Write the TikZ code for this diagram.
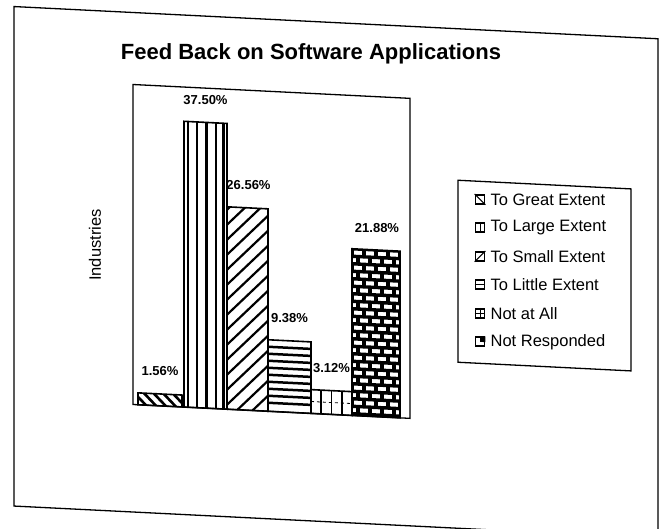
\documentclass[tikz,border=0pt]{standalone}
\usepackage{fontspec}
\setmainfont{Liberation Sans}
\usetikzlibrary{positioning}
\tikzset{
x=1pt, y=-1pt, % one unit is one pixel of the scan, y runs downwards
frame/.style={draw, line width=1.3pt}, % outer frame, plot area and legend box
bar/.style={draw, line width=1.6pt}, % outline of every bar
hatch/.style={line width=2.6pt}, % the thick lines that fill the bars
pct/.style={font=\bfseries\fontsize{13}{15}\selectfont, anchor=base, inner sep=0pt},
key/.style={draw, line width=1.8pt, minimum size=9pt, inner sep=0pt}, % small legend squares
keytext/.style={font=\fontsize{16.5}{18}\selectfont, inner sep=0pt, anchor=west},
}

\begin{document}
\begin{tikzpicture}
\useasboundingbox (0,0) rectangle (667,528);

\begin{scope}[yshift=16.65pt, yslant=-0.05] % the scan is skewed a little

\draw[frame] (14,22.5) rectangle (658,522);
\node[font=\bfseries\fontsize{22}{26}\selectfont] (title) at (311,55) {Feed Back on Software Applications};
\node[font=\fontsize{16.5}{18}\selectfont, rotate=90] (ylab) at (95,257) {Industries};

\draw[frame] (133,94.5) rectangle (410,414.5);

% to great extent
\begin{scope}
\clip (138,402.6) rectangle (182,414.5);
\foreach \x in {124,134,...,184}
  \draw[hatch] (\x,402.6) -- ++(14,14);
\end{scope}
\draw[bar] (138,402.6) rectangle (182,414.5);

% to large extent
\foreach \x in {188,197,206.5,216,223.5}
  \draw[hatch] (\x,128.75) -- (\x,414.5);
\draw[bar] (184,128.75) rectangle (227,414.5);

% to small extent
\begin{scope}
\clip (227,212.1) rectangle (268,414.5);
\foreach \y in {215,230,...,470}
  \draw[line width=2.2pt] (227,\y) -- ++(45,-45);
\end{scope}
\draw[bar] (227,212.1) rectangle (268,414.5);

% to little extent
\foreach \y in {350,357,...,410}
  \draw[line width=2.5pt] (268,\y) -- (311,\y);
\draw[bar] (268,343) rectangle (311,414.5);

% not at all
\foreach \x in {321,331.5,342}
  \draw[line width=1.2pt] (\x,390.7) -- (\x,414.5);
\draw[line width=0.8pt, dashed] (311,402.6) -- (352,402.6);
\draw[bar] (311,390.7) rectangle (352,414.5);

% not responded
\begin{scope}
\clip (352,247.8) rectangle (400,414.5);
\foreach \r in {0,...,22} {
  \pgfmathsetmacro\ry{247.8+7.5*\r}
  \pgfmathsetmacro\off{mod(\r,2)*6}
  \draw[line width=3.4pt] (352,\ry) -- (400,\ry);
  \foreach \j in {0,...,4}
    \draw[line width=3.4pt] ({352+\off+12*\j},\ry) -- ++(0,7.5);
}
\end{scope}
\draw[bar] (352,247.8) rectangle (400,414.5);

\node[pct] (p1) at (160,384.6) {1.56\%};
\node[pct] (p2) at (205.5,110.75) {37.50\%};
\node[pct] (p3) at (248.5,194.1) {26.56\%};
\node[pct] (p4) at (289.5,325) {9.38\%};
\node[pct] (p5) at (331.5,372.7) {3.12\%};
\node[pct] (p6) at (377,229.8) {21.88\%};

\draw[frame] (458,174) rectangle (631,356);

\node[key] (k1) at (480,192) {};
\node[key] (k2) at (480,220.5) {};
\node[key] (k3) at (480,249) {};
\node[key] (k4) at (480,277.5) {};
\node[key] (k5) at (480,306) {};
\node[key] (k6) at (480,334.5) {};

\draw[line width=1pt] (k1.north west) -- (k1.south east);
\draw[line width=1pt] (k2.north) -- (k2.south);
\draw[line width=1pt] (k3.south west) -- (k3.north east);
\draw[line width=1pt] (k4.west) -- (k4.east);
\draw[line width=1pt] (k5.west) -- (k5.east) (k5.north) -- (k5.south);
\fill (k6.center) rectangle (k6.north east);

\node[keytext, right=5pt of k1] (t1) {To Great Extent};
\node[keytext, right=5pt of k2] (t2) {To Large Extent};
\node[keytext, right=5pt of k3] (t3) {To Small Extent};
\node[keytext, right=5pt of k4] (t4) {To Little Extent};
\node[keytext, right=5pt of k5] (t5) {Not at All};
\node[keytext, right=5pt of k6] (t6) {Not Responded};

\end{scope}

\end{tikzpicture}
\end{document}
